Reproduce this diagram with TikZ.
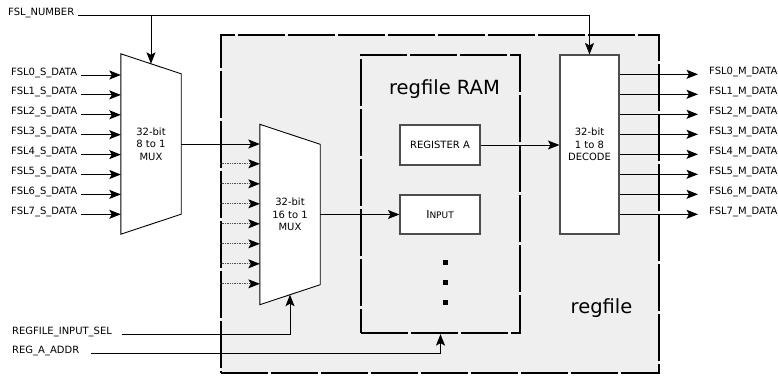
\documentclass[tikz,border=0pt]{standalone}
\usepackage{fontspec}
\setmainfont{DejaVu Sans}
\usetikzlibrary{arrows.meta,positioning,calc,backgrounds}
\definecolor{fundo}{HTML}{EFEFEF}
\definecolor{borda}{HTML}{4D4D4D}

\begin{document}
\begin{tikzpicture}[x=1pt, y=-1pt,
  >={Stealth[length=11.5pt, width=9pt, inset=2.5pt]},
  font=\fontsize{10}{12.3}\selectfont,
  blk/.style={draw=borda, line width=1.1pt, fill=white, align=center, inner sep=0pt},
  muxbox/.style={align=center, inner sep=0pt, minimum width=60pt, minimum height=180pt},
  muxline/.style={draw, line width=0.9pt, fill=white},
  region/.style={draw, line width=2.2pt, dash pattern=on 47pt off 3pt, fill=fundo, inner sep=0pt},
  sig/.style={inner xsep=4pt, inner ysep=1pt},
  wire/.style={->, line width=1pt},
  stub/.style={-{Stealth[length=11.5pt, width=9pt, inset=2.5pt, black]}, line width=0.7pt, densely dotted, draw=borda},
  big/.style={font=\fontsize{19.5}{22}\selectfont}]

  \useasboundingbox (0,0) rectangle (778,375);

  \begin{scope}[on background layer]
    \node[region, minimum width=438pt, minimum height=338pt] (regfile) at (440,204) {};
    \node[region, minimum width=159pt, minimum height=278pt] (ram) at (440.5,194) {};
  \end{scope}
  \node[big] (regfilelbl) at (601.5,308) {regfile};
  \node[big] (ramlbl) at (444.5,89) {regfile RAM};

  \node[blk, minimum width=80pt, minimum height=40pt] (rega) at (440,145) {REGISTER A};
  \node[blk, minimum width=80pt, minimum height=39pt] (input) at (440,214.5) {{\fontsize{11}{12}\selectfont I}{\fontsize{9}{10}\selectfont NPUT}};
  \foreach \i in {0,1,2}
    \node[fill, minimum size=5pt, inner sep=0pt] (dot\i) at (445,262+20*\i) {};

  \node[blk, minimum width=59pt, minimum height=179pt] (decode) at (589.5,144.5) {32-bit\\1 to 8\\DECODE};

  \node[muxbox] (mux8) at (151,144) {32-bit\\8 to 1\\MUX};
  \node[muxbox] (mux16) at (290,214.5) {32-bit\\16 to 1\\MUX};
  \begin{scope}[on background layer]
    \draw[muxline] (mux8.north west) -- ($(mux8.north east)+(0,20)$) -- ($(mux8.south east)+(0,-20)$) -- (mux8.south west) -- cycle;
    \draw[muxline] (mux16.north west) -- ($(mux16.north east)+(0,20)$) -- ($(mux16.south east)+(0,-20)$) -- (mux16.south west) -- cycle;
  \end{scope}

  \foreach \i [evaluate=\i as \y using 75+19.9*\i] in {0,...,7} {
    \node[sig, anchor=base west] (fs\i) at (7,\y) {FSL\i\_S\_DATA};
    \draw[wire] (fs\i.base east) -- (fs\i.base east -| mux8.west);
  }

  \draw[wire] (mux8.east) -- (mux8.east -| mux16.west);
  \foreach \i in {1,...,7} {
    \coordinate (m16in\i) at ($(mux16.north west)+(0,19.5+20*\i)$);
    \draw[stub] (regfile.west |- m16in\i) -- (m16in\i);
  }
  \draw[wire] (mux16.east) -- (input.west);
  \draw[wire] (rega.east) -- (rega.east -| decode.west);

  \node[sig, anchor=base west] (fslnum) at (4,15) {FSL\_NUMBER};
  \draw[wire] (fslnum.base east) -| (decode.north);
  \draw[wire] (fslnum.base east -| mux8.north) -- ($(mux8.north)+(0,10)$);

  \foreach \i [evaluate=\i as \y using 74.3+20*\i] in {0,...,7} {
    \node[sig, anchor=base west] (fm\i) at (705,\y) {FSL\i\_M\_DATA};
    \draw[wire] (decode.east |- fm\i.base west) -- ([xshift=-7pt]fm\i.base west);
  }

  \node[sig, anchor=base west] (sel) at (8,334) {REGFILE\_INPUT\_SEL};
  \draw[wire] ([xshift=6pt]sel.base east) -| ($(mux16.south)+(0,-10)$);
  \node[sig, anchor=base west] (addr) at (8,353) {REG\_A\_ADDR};
  \draw[wire] ([xshift=8pt]addr.base east) -| (ram.south);
\end{tikzpicture}
\end{document}
